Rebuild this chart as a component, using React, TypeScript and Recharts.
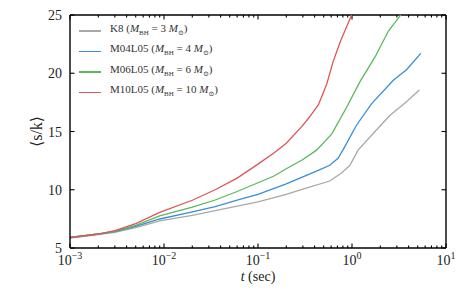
import React from 'react';
import { LineChart, Line, XAxis, YAxis, Legend, ReferenceLine } from 'recharts';

// time (sec) and mean entropy per baryon for each model
const k8T = [0.001, 0.002, 0.003, 0.005, 0.009, 0.02, 0.035, 0.06, 0.1, 0.2, 0.3, 0.58, 0.78, 0.95, 1.16, 1.69, 2.54, 3.8, 5.2];
const k8S = [5.85, 6.15, 6.35, 6.75, 7.32, 7.8, 8.2, 8.6, 8.95, 9.6, 10.05, 10.75, 11.46, 12.1, 13.4, 14.85, 16.4, 17.56, 18.56];

const m04T = [0.001, 0.002, 0.003, 0.005, 0.009, 0.02, 0.035, 0.06, 0.1, 0.2, 0.3, 0.45, 0.58, 0.71, 0.8, 1.12, 1.62, 2.75, 3.8, 5.4];
const m04S = [5.9, 6.2, 6.4, 6.85, 7.49, 8.1, 8.55, 9.1, 9.6, 10.5, 11.1, 11.7, 12.1, 12.7, 13.4, 15.56, 17.4, 19.4, 20.3, 21.7];

const m06T = [0.001, 0.002, 0.003, 0.005, 0.009, 0.02, 0.035, 0.06, 0.1, 0.15, 0.2, 0.3, 0.42, 0.61, 0.88, 1.22, 1.76, 2.43, 3.3, 3.6];
const m06S = [5.9, 6.2, 6.45, 6.95, 7.75, 8.5, 9.12, 9.85, 10.6, 11.2, 11.8, 12.6, 13.4, 14.8, 17.1, 19.3, 21.4, 23.6, 25.0, 25.5];

const m10T = [0.001, 0.002, 0.003, 0.005, 0.009, 0.02, 0.035, 0.06, 0.1, 0.15, 0.2, 0.29, 0.35, 0.44, 0.54, 0.63, 0.75, 0.99, 1.05];
const m10S = [5.9, 6.2, 6.5, 7.1, 8.05, 9.1, 10.0, 11.0, 12.2, 13.2, 14.0, 15.4, 16.2, 17.3, 19.1, 21.0, 22.7, 25.0, 25.5];

const seriesNames = ['K8', 'M04L05', 'M06L05', 'M10L05'];
const seriesMass = ['3', '4', '6', '10'];
const seriesColors = ['#a8a8a8', '#3a8ed4', '#5cb85c', '#e05555'];

const majorX = [0.001, 0.01, 0.1, 1, 10];
const expLabels = ['−3', '−2', '−1', '0', '1'];
const minorX = [0.001, 0.01, 0.1, 1].flatMap((d) => [2, 3, 4, 5, 6, 7, 8, 9].map((m) => +(d * m).toPrecision(3)));
const yTicks = [5, 10, 15, 20, 25];

const toRows = (t: number[], s: number[]) => t.map((x, i) => ({ t: x, s: s[i] }));
const allSeries = [toRows(k8T, k8S), toRows(m04T, m04S), toRows(m06T, m06S), toRows(m10T, m10S)];

const FONT = 'Liberation Serif, DejaVu Serif, serif';
const txt = { fontFamily: FONT };
const INK = '#000';
const Y_MIN = 5;
const Y_MAX = 25;
const X_MIN = 0.001;
const X_MAX = 10;
// inward tick lengths (major ~4.5px, minor ~2.5px)
const TICK_S_MAJOR = 0.39;
const TICK_S_MINOR = 0.22;
const TICK_T_FACTOR = 1.117;

const BottomTick = ({ x, y, payload }: any) => {
  const idx = majorX.indexOf(payload.value);
  return (
    <text x={x} y={y + 17} textAnchor="middle" style={txt} fontSize={14} fill="#222">
      <tspan>10</tspan>
      <tspan dy={-6} fontSize={10}>{expLabels[idx]}</tspan>
    </text>
  );
};

const LeftTick = ({ x, y, payload }: any) => (
  <text x={x - 8} y={y} dy={5} textAnchor="end" style={txt} fontSize={14} fill="#222">{payload.value}</text>
);

const XLabel = ({ viewBox }: any) => (
  <text x={viewBox.x + viewBox.width / 2} y={281} textAnchor="middle" style={txt} fontSize={14} fill="#222">
    <tspan fontStyle="italic">t</tspan> (sec)
  </text>
);

const YLabel = ({ viewBox }: any) => {
  const cx = 42;
  const cy = viewBox.y + viewBox.height / 2;
  return (
    <text x={cx} y={cy} transform={`rotate(-90 ${cx} ${cy})`} textAnchor="middle" style={txt} fontSize={16} fill="#222">
      ⟨s/k⟩
    </text>
  );
};

const LegendBox = () => (
  <div style={{ fontFamily: FONT, fontSize: 11, color: '#333', lineHeight: '15.3px' }}>
    {seriesNames.map((name, i) => (
      <div key={name} style={{ display: 'flex', alignItems: 'center', whiteSpace: 'nowrap' }}>
        <span style={{ display: 'inline-block', width: 22, height: 1.5, background: seriesColors[i], marginRight: 9 }} />
        <span>
          {name} (<i>M</i><sub style={{ fontSize: 7 }}>BH</sub> = {seriesMass[i]} <i>M</i><sub style={{ fontSize: 7 }}>⊙</sub>)
        </span>
      </div>
    ))}
  </div>
);

const xCommon = { type: 'number' as const, scale: 'log' as const, domain: [X_MIN, X_MAX], allowDataOverflow: true, dataKey: 't' };
const frame = { stroke: INK, strokeWidth: 1.4 };

const xTickMarks = [
  ...majorX.map((t) => ({ t, len: TICK_S_MAJOR })),
  ...minorX.map((t) => ({ t, len: TICK_S_MINOR })),
];

export default function App() {
  return (
    <div style={{ position: 'absolute', left: 0, top: 0, width: 469, height: 293, background: '#fff' }}>
      <LineChart width={469} height={293} margin={{ top: 15, right: 23, bottom: 0, left: 0 }}>
        <XAxis xAxisId="x" {...xCommon} ticks={majorX} interval={0} tick={<BottomTick />} tickLine={false}
          tickSize={0} tickMargin={0} axisLine={frame} height={45} label={<XLabel />} />
        <YAxis yAxisId="y" type="number" domain={[Y_MIN, Y_MAX]} allowDataOverflow ticks={yTicks} interval={0} width={70}
          tickLine={false} tickSize={0} tickMargin={0} axisLine={frame} tick={<LeftTick />} label={<YLabel />} />
        {/* top and right frame */}
        <ReferenceLine xAxisId="x" yAxisId="y" y={Y_MAX} stroke={INK} strokeWidth={1.4} />
        <ReferenceLine xAxisId="x" yAxisId="y" x={X_MAX} stroke={INK} strokeWidth={1.4} />
        {/* inward ticks on all four sides */}
        {xTickMarks.map(({ t, len }) => (
          <ReferenceLine key={`b${t}`} xAxisId="x" yAxisId="y" stroke={INK} strokeWidth={1.1} ifOverflow="visible"
            segment={[{ x: t, y: Y_MIN }, { x: t, y: Y_MIN + len }]} />
        ))}
        {xTickMarks.map(({ t, len }) => (
          <ReferenceLine key={`t${t}`} xAxisId="x" yAxisId="y" stroke={INK} strokeWidth={1.1} ifOverflow="visible"
            segment={[{ x: t, y: Y_MAX }, { x: t, y: Y_MAX - len }]} />
        ))}
        {yTicks.map((s) => (
          <ReferenceLine key={`l${s}`} xAxisId="x" yAxisId="y" stroke={INK} strokeWidth={1.1} ifOverflow="visible"
            segment={[{ x: X_MIN, y: s }, { x: X_MIN * TICK_T_FACTOR, y: s }]} />
        ))}
        {yTicks.map((s) => (
          <ReferenceLine key={`r${s}`} xAxisId="x" yAxisId="y" stroke={INK} strokeWidth={1.1} ifOverflow="visible"
            segment={[{ x: X_MAX / TICK_T_FACTOR, y: s }, { x: X_MAX, y: s }]} />
        ))}
        <Legend layout="vertical" align="center" verticalAlign="middle" content={<LegendBox />}
          wrapperStyle={{ left: 79, top: 21, width: 'auto', height: 'auto' }} />
        {allSeries.map((rows, i) => (
          <Line key={seriesNames[i]} xAxisId="x" yAxisId="y" data={rows} dataKey="s" name={seriesNames[i]}
            stroke={seriesColors[i]} strokeWidth={1.3} dot={false} isAnimationActive={false} />
        ))}
      </LineChart>
    </div>
  );
}
